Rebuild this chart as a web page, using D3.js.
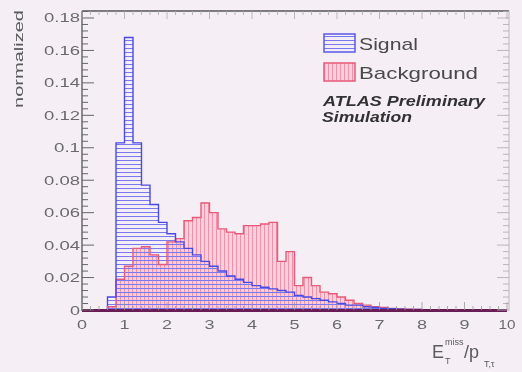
<!DOCTYPE html>
<html><head><meta charset="utf-8">
<script src="https://cdn.jsdelivr.net/npm/d3@7"></script>
<style>
html,body{margin:0;padding:0;background:#f5eff5;}
svg{display:block;}
text{font-family:"Liberation Sans",Arial,Helvetica,sans-serif;}
</style></head>
<body>
<script>
// ---- data (bin width 0.2 over 0..10) ----
const binEdgesStart = 0, binWidth = 0.2, nBins = 50;
const signal = [
  0, 0, 0, 0.008, 0.103, 0.168, 0.103, 0.077, 0.065, 0.054,
  0.047, 0.042, 0.038, 0.034, 0.030, 0.027, 0.024, 0.021, 0.019, 0.017,
  0.015, 0.014, 0.013, 0.012, 0.011, 0.009, 0.008, 0.007, 0.006, 0.005,
  0.004, 0.003, 0.003, 0.002, 0.0015, 0.001, 0.0008, 0.0005, 0.0004, 0.0003,
  0.0002, 0.0002, 0.0001, 0.0001, 0, 0, 0, 0, 0, 0
];
const background = [
  0, 0, 0, 0.002, 0.019, 0.027, 0.038, 0.039, 0.034, 0.028,
  0.042, 0.044, 0.055, 0.057, 0.066, 0.060, 0.050, 0.048, 0.047, 0.052,
  0.052, 0.053, 0.054, 0.030, 0.036, 0.015, 0.020, 0.015, 0.011, 0.010,
  0.008, 0.006, 0.004, 0.003, 0.002, 0.0015, 0.001, 0.0008, 0.0005, 0.0003,
  0.0002, 0.0002, 0.0001, 0, 0, 0, 0, 0, 0, 0
];
const yTicks = [0, 0.02, 0.04, 0.06, 0.08, 0.1, 0.12, 0.14, 0.16, 0.18];
const yTickLabels = ["0", "0.02", "0.04", "0.06", "0.08", "0.1", "0.12", "0.14", "0.16", "0.18"];
const xTicks = [0, 1, 2, 3, 4, 5, 6, 7, 8, 9, 10];
const seriesNames = ["Signal", "Background"];

const W = 522, H = 372;
const svg = d3.select("body").append("svg").attr("width", W).attr("height", H);
svg.append("rect").attr("width", W).attr("height", H).attr("fill", "#f5eff5");

const x = d3.scaleLinear().domain([0, 10]).range([82, 507]);
const y = d3.scaleLinear().domain([0, 0.1843]).range([310, 11]);

// patterns + soft blur like the reference photo
const defs = svg.append("defs");
defs.append("filter").attr("id", "soft").append("feGaussianBlur").attr("stdDeviation", 0.45);
const pb = defs.append("pattern").attr("id", "hblue").attr("patternUnits", "userSpaceOnUse")
  .attr("width", 6).attr("height", 4);
pb.append("line").attr("x1", 0).attr("x2", 6).attr("y1", 0.5).attr("y2", 0.5)
  .attr("stroke", "#7a7af0").attr("stroke-width", 1.1);
const pr = defs.append("pattern").attr("id", "vred").attr("patternUnits", "userSpaceOnUse")
  .attr("width", 4).attr("height", 6);
pr.append("rect").attr("width", 4).attr("height", 6).attr("fill", "#f8d0de");
pr.append("line").attr("x1", 0.5).attr("x2", 0.5).attr("y1", 0).attr("y2", 6)
  .attr("stroke", "#ef92aa").attr("stroke-width", 1);

const root = svg.append("g").attr("filter", "url(#soft)");

function pts(vals) {
  const p = vals.map((v, i) => [binEdgesStart + i * binWidth, v]);
  p.push([binEdgesStart + nBins * binWidth, vals[vals.length - 1]]);
  return p;
}
const area = d3.area().x(d => x(d[0])).y0(y(0)).y1(d => y(d[1])).curve(d3.curveStepAfter);
const line = d3.line().x(d => x(d[0])).y(d => y(d[1])).curve(d3.curveStepAfter);

const pS = pts(signal), pB = pts(background);
root.append("path").attr("d", area(pB)).attr("fill", "url(#vred)");
root.append("path").attr("d", area(pS)).attr("fill", "url(#hblue)");
root.append("path").attr("d", line(pB)).attr("fill", "none").attr("stroke", "#e85a78").attr("stroke-width", 1.4);
root.append("path").attr("d", line(pS)).attr("fill", "none").attr("stroke", "#4a4ae4").attr("stroke-width", 1.4);

// baseline
root.append("line").attr("x1", x(0)).attr("x2", x(10)).attr("y1", y(0) + 0.5).attr("y2", y(0) + 0.5)
  .attr("stroke", "#6a1f55").attr("stroke-width", 3);

// frame
root.append("line").attr("x1", 82).attr("x2", 82).attr("y1", 11).attr("y2", 311).attr("stroke", "#555").attr("stroke-width", 1.3);
root.append("line").attr("x1", 82).attr("x2", 509).attr("y1", 11).attr("y2", 11).attr("stroke", "#555").attr("stroke-width", 1.3);
root.append("line").attr("x1", 509).attr("x2", 509).attr("y1", 11).attr("y2", 311).attr("stroke", "#b0a8b0").attr("stroke-width", 0.8);

// ticks
const gl = root.append("g");
d3.range(0, 0.1843, 0.004).forEach(v => {
  const isMaj = Math.abs(v / 0.02 - Math.round(v / 0.02)) < 1e-6;
  gl.append("line").attr("x1", 82).attr("x2", 82 + (isMaj ? 12 : 6)).attr("y1", y(v)).attr("y2", y(v))
    .attr("stroke", "#666").attr("stroke-width", 1);
  gl.append("line").attr("x1", 509).attr("x2", 509 - (isMaj ? 12 : 6)).attr("y1", y(v)).attr("y2", y(v))
    .attr("stroke", "#aaa").attr("stroke-width", 0.8);
});
d3.range(0, 10.001, 0.2).forEach(v => {
  const isMaj = Math.abs(v - Math.round(v)) < 1e-6;
  gl.append("line").attr("x1", x(v)).attr("x2", x(v)).attr("y1", 11).attr("y2", 11 + (isMaj ? 8 : 4))
    .attr("stroke", "#aaa").attr("stroke-width", 0.8);
  gl.append("line").attr("x1", x(v)).attr("x2", x(v)).attr("y1", 310).attr("y2", 310 - (isMaj ? 8 : 4))
    .attr("stroke", "#999").attr("stroke-width", 0.8);
});

// y tick labels
yTicks.forEach((v, i) => {
  const t = yTickLabels[i];
  root.append("text").attr("x", 80).attr("y", y(v) + 4.5).attr("text-anchor", "end")
    .attr("font-size", 12.5).attr("fill", "#6a6a6a")
    .attr("textLength", t.length === 1 ? 10 : (t.length === 3 ? 26 : 36)).attr("lengthAdjust", "spacingAndGlyphs")
    .text(t);
});
// x tick labels
xTicks.forEach(v => {
  const t = String(v);
  root.append("text").attr("x", x(v)).attr("y", 329).attr("text-anchor", "middle")
    .attr("font-size", 13).attr("fill", "#6a6a6a")
    .attr("textLength", t.length === 1 ? 10 : 17).attr("lengthAdjust", "spacingAndGlyphs")
    .text(t);
});

// y title
root.append("text").attr("transform", "translate(23,10) rotate(-90)").attr("text-anchor", "end")
  .attr("font-size", 13.5).attr("fill", "#5a5a5a")
  .attr("textLength", 98).attr("lengthAdjust", "spacingAndGlyphs").text("normalized");

// x title E_T^miss / p_T,τ
const xt = root.append("g").attr("fill", "#5a5a5a");
xt.append("text").attr("x", 432).attr("y", 358).attr("font-size", 18).text("E");
xt.append("text").attr("x", 445).attr("y", 345).attr("font-size", 9).text("miss");
xt.append("text").attr("x", 445).attr("y", 364).attr("font-size", 9).text("T");
xt.append("text").attr("x", 464).attr("y", 358).attr("font-size", 18).text("/p");
xt.append("text").attr("x", 484).attr("y", 367).attr("font-size", 9).text("T,τ");

// legend
const lg = root.append("g");
lg.append("rect").attr("x", 324).attr("y", 34).attr("width", 31).attr("height", 18)
  .attr("fill", "url(#hblue)").attr("stroke", "#5a5ae6").attr("stroke-width", 1.5);
lg.append("rect").attr("x", 324).attr("y", 63).attr("width", 31).attr("height", 18)
  .attr("fill", "url(#vred)").attr("stroke", "#e85a78").attr("stroke-width", 1.5);
lg.append("text").attr("x", 359).attr("y", 50).attr("font-size", 17).attr("fill", "#4a4a4a")
  .attr("textLength", 59).attr("lengthAdjust", "spacingAndGlyphs").text(seriesNames[0]);
lg.append("text").attr("x", 359).attr("y", 79).attr("font-size", 17).attr("fill", "#4a4a4a")
  .attr("textLength", 119).attr("lengthAdjust", "spacingAndGlyphs").text(seriesNames[1]);
lg.append("text").attr("x", 323).attr("y", 106).attr("font-size", 14).attr("font-weight", "bold")
  .attr("font-style", "italic").attr("fill", "#333")
  .attr("textLength", 162).attr("lengthAdjust", "spacingAndGlyphs").text("ATLAS Preliminary");
lg.append("text").attr("x", 322).attr("y", 122).attr("font-size", 14).attr("font-weight", "bold")
  .attr("font-style", "italic").attr("fill", "#333")
  .attr("textLength", 90).attr("lengthAdjust", "spacingAndGlyphs").text("Simulation");
</script>
</body></html>
